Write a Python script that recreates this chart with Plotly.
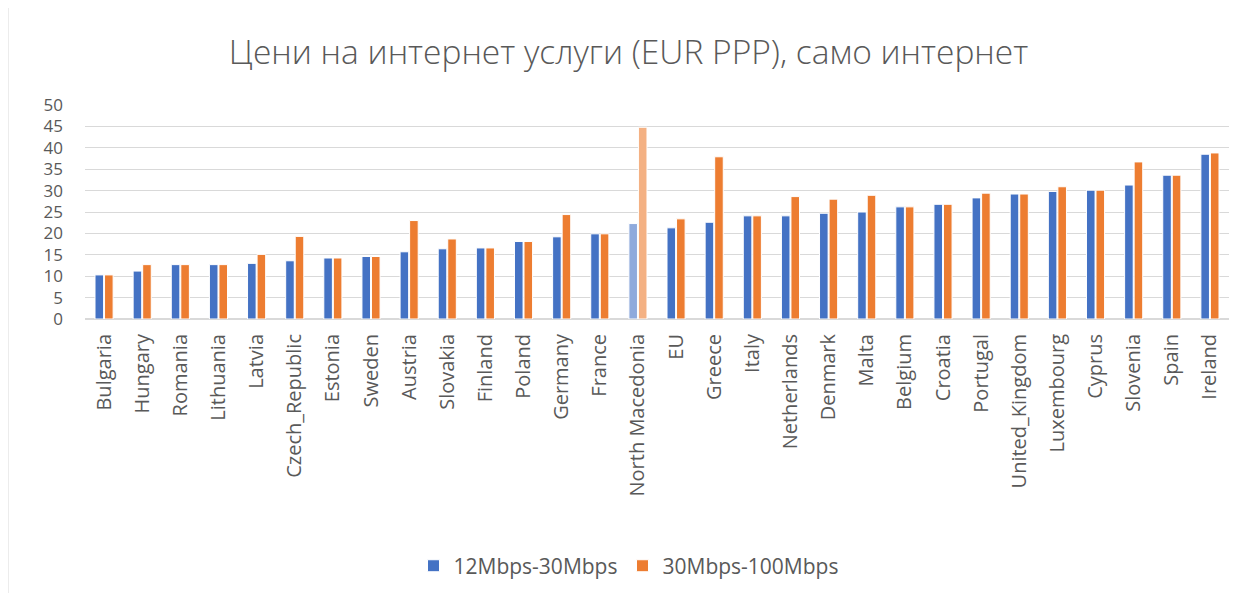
import plotly.graph_objects as go

# Categories and values (EUR PPP)
countries = ['Bulgaria', 'Hungary', 'Romania', 'Lithuania', 'Latvia', 'Czech_Republic',
             'Estonia', 'Sweden', 'Austria', 'Slovakia', 'Finland', 'Poland', 'Germany',
             'France', 'North Macedonia', 'EU', 'Greece', 'Italy', 'Netherlands', 'Denmark',
             'Malta', 'Belgium', 'Croatia', 'Portugal', 'United_Kingdom', 'Luxembourg',
             'Cyprus', 'Slovenia', 'Spain', 'Ireland']
speed_12_30 = [10.3, 11.2, 12.7, 12.7, 13.0, 13.6, 14.25, 14.6, 15.7, 16.4, 16.6, 18.1, 19.2,
               19.9, 22.3, 21.3, 22.6, 24.1, 24.1, 24.7, 25.0, 26.2, 26.8, 28.3, 29.2, 29.8,
               30.1, 31.3, 33.6, 38.5]
speed_30_100 = [10.3, 12.7, 12.7, 12.7, 15.1, 19.3, 14.25, 14.6, 23.0, 18.7, 16.6, 18.1, 24.4,
                19.9, 44.8, 23.4, 37.9, 24.1, 28.6, 28.0, 28.9, 26.2, 26.8, 29.4, 29.2, 30.9,
                30.1, 36.7, 33.6, 38.8]
highlight = 'North Macedonia'
y_ticks = [0, 5, 10, 15, 20, 25, 30, 35, 40, 45, 50]

font_family = 'Open Sans, sans-serif'
text_color = '#595959'

blue_colors = ['#8FAADC' if c == highlight else '#4472C4' for c in countries]
orange_colors = ['#F4B183' if c == highlight else '#ED7D31' for c in countries]

fig = go.Figure()
fig.add_trace(go.Bar(
    x=countries, y=speed_12_30, name='12Mbps-30Mbps',
    marker=dict(color=blue_colors, line=dict(color='#ffffff', width=1))))
fig.add_trace(go.Bar(
    x=countries, y=speed_30_100, name='30Mbps-100Mbps',
    marker=dict(color=orange_colors, line=dict(color='#ffffff', width=1))))

# chart frame like the spreadsheet chart border
fig.add_shape(type='rect', xref='paper', yref='paper',
              x0=-0.0673, x1=1.0236, y0=-1.4, y1=1.4626,
              line=dict(color='#D9D9D9', width=1), layer='below')

# the html page puts the figure 8px in from the top-left corner
fig.update_layout(
    width=1241, height=585,
    margin=dict(l=77, r=20, t=97, b=274),
    title=dict(text='Цени на интернет услуги (EUR PPP), само интернет',
               x=0.5, xref='container', y=0.925, yanchor='middle',
               font=dict(family=font_family, size=33.5, color=text_color, weight=300)),
    paper_bgcolor='#ffffff',
    plot_bgcolor='#ffffff',
    barmode='group',
    bargap=0.5,
    bargroupgap=0.1,
    showlegend=True,
    legend=dict(orientation='h', x=0.5, xanchor='center', xref='container',
                y=0.046, yref='container', yanchor='middle',
                font=dict(family=font_family, size=21, color=text_color),
                itemwidth=30, traceorder='normal'),
)

fig.update_xaxes(
    tickangle=-90,
    tickfont=dict(family=font_family, size=20, color=text_color),
    showgrid=False,
    showline=True, linecolor='#D9D9D9', linewidth=1,
    ticks='', ticklabelstandoff=6, automargin=False,
)

fig.update_yaxes(
    range=[0, 50],
    tickvals=y_ticks,
    tickfont=dict(family=font_family, size=17, color=text_color),
    showgrid=True, gridcolor='#D9D9D9', gridwidth=1,
    zeroline=True, zerolinecolor='#D9D9D9',
    ticks='', ticklabelstandoff=21, automargin=False,
)

fig.write_html("out.html")
